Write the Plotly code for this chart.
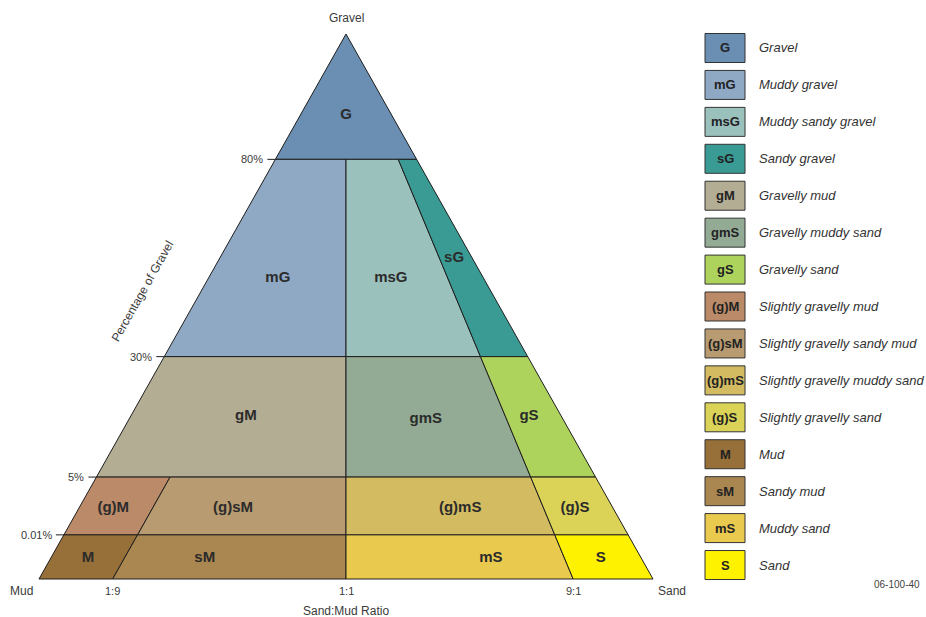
import plotly.graph_objects as go

# gravel class limits and their schematic height on the diagram (apex = 100)
gravel_labels = ["0.01%", "5%", "30%", "80%"]
gravel_levels = [8.1, 18.7, 40.8, 77.0]

# sand:mud ratio limits, position along the base (Mud = 0, Sand = 100)
ratio_labels = ["1:9", "1:1", "9:1"]
ratio_base = [12.0, 50.0, 87.0]

codes = ["G", "mG", "msG", "sG", "gM", "gmS", "gS", "(g)M", "(g)sM",
         "(g)mS", "(g)S", "M", "sM", "mS", "S"]
names = ["Gravel", "Muddy gravel", "Muddy sandy gravel", "Sandy gravel",
         "Gravelly mud", "Gravelly muddy sand", "Gravelly sand",
         "Slightly gravelly mud", "Slightly gravelly sandy mud",
         "Slightly gravelly muddy sand", "Slightly gravelly sand",
         "Mud", "Sandy mud", "Muddy sand", "Sand"]
# gravel band of each class (0 = lowest) and the limits on its left / right
bands = [4, 3, 3, 3, 2, 2, 2, 1, 1, 1, 1, 0, 0, 0, 0]
left_side = ["mud", "mud", "1:1", "9:1", "mud", "1:1", "9:1",
             "mud", "1:9", "1:1", "9:1", "mud", "1:9", "1:1", "9:1"]
right_side = ["sand", "1:1", "9:1", "sand", "1:1", "9:1", "sand",
              "1:9", "1:1", "9:1", "sand", "1:9", "1:1", "9:1", "sand"]

colors = ["#6a8fb2", "#8fa9c4", "#9bc1bd", "#3a9b95", "#b3ad94", "#93ab94",
          "#aed35d", "#bb8a69", "#b89b70", "#d3bb62", "#dad357", "#976f38",
          "#aa8651", "#eac94f", "#fff200"]

# where the class codes sit inside the triangle (diagram units)
label_x = [50, 38.9, 57.3, 67.6, 33.7, 63.0, 79.8, 12.1, 31.6, 68.6, 87.3,
           8.0, 27.0, 73.6, 91.5]
label_y = [85.1, 55.2, 55.2, 58.9, 29.9, 29.4, 29.9, 13.0, 13.0, 13.0, 13.0,
           3.9, 3.9, 3.9, 3.9]

levels = [0] + gravel_levels + [100]
LINE = "#1e1e1e"
SANS = "Liberation Sans, Arial, sans-serif"


def side_x(side, y):
    if side == "mud":
        return 0.5 * y
    if side == "sand":
        return 100 - 0.5 * y
    if side == "1:9":  # drawn parallel to the mud edge
        return ratio_base[0] + 0.5 * y
    base = ratio_base[ratio_labels.index(side)]
    return base + (50 - base) * y / 100  # runs to the apex


fig = go.Figure()

for i in range(len(codes)):
    y0, y1 = levels[bands[i]], levels[bands[i] + 1]
    xs = [side_x(left_side[i], y0), side_x(right_side[i], y0),
          side_x(right_side[i], y1), side_x(left_side[i], y1),
          side_x(left_side[i], y0)]
    fig.add_trace(go.Scatter(x=xs, y=[y0, y0, y1, y1, y0], mode="lines",
                             fill="toself", fillcolor=colors[i],
                             line=dict(color=LINE, width=1),
                             hoverinfo="skip", showlegend=False))

fig.add_trace(go.Scatter(x=label_x, y=label_y, mode="text", text=codes,
                         textfont=dict(family=SANS, size=15, color="#2b2b2b",
                                       weight="bold"),
                         hoverinfo="skip", showlegend=False))

# gravel ticks on the mud edge
for lab, lv in zip(gravel_labels, gravel_levels):
    fig.add_trace(go.Scatter(x=[side_x("mud", lv) - 1.3, side_x("mud", lv)],
                             y=[lv, lv], mode="lines",
                             line=dict(color=LINE, width=1),
                             hoverinfo="skip", showlegend=False))
    fig.add_annotation(x=side_x("mud", lv) - 1.3, y=lv, text=lab,
                       xanchor="right", xshift=-2, showarrow=False,
                       font=dict(family=SANS, size=11, color="#3a3a3a"))

for lab, b in zip(ratio_labels, ratio_base):
    fig.add_annotation(x=b, y=-2.2, text=lab, showarrow=False,
                       font=dict(family=SANS, size=11, color="#3a3a3a"))

axis_font = dict(family=SANS, size=12, color="#3a3a3a")
fig.add_annotation(x=50, y=102.9, text="Gravel", showarrow=False, font=axis_font)
fig.add_annotation(x=-2.8, y=-2.2, text="Mud", showarrow=False, font=axis_font)
fig.add_annotation(x=103.1, y=-2.2, text="Sand", showarrow=False, font=axis_font)
fig.add_annotation(x=50, y=-5.9, text="Sand:Mud Ratio", showarrow=False,
                   font=axis_font)
fig.add_annotation(x=16.9, y=52.8, text="Percentage of Gravel", textangle=-60.6,
                   showarrow=False, font=axis_font)

# legend drawn as boxes on the right
for i in range(len(codes)):
    cy = 1 - (48 + i * 36.93) / 617
    fig.add_shape(type="rect", xref="paper", yref="paper",
                  x0=705 / 926, x1=745 / 926, y0=cy - 14.5 / 617,
                  y1=cy + 14.5 / 617, fillcolor=colors[i],
                  line=dict(color="#333333", width=1))
    fig.add_annotation(xref="paper", yref="paper", x=725 / 926, y=cy,
                       xanchor="center", yanchor="middle",
                       text="<b>" + codes[i] + "</b>", showarrow=False,
                       font=dict(family=SANS, size=13, color="#222222"))
    fig.add_annotation(xref="paper", yref="paper", x=757 / 926, y=cy,
                       xanchor="left", yanchor="middle",
                       text="<i>" + names[i] + "</i>", showarrow=False,
                       font=dict(family=SANS, size=13, color="#333333"))

fig.add_annotation(xref="paper", yref="paper", x=922 / 926, y=1 - 584 / 617,
                   xanchor="right", yanchor="middle", text="06-100-40",
                   showarrow=False,
                   font=dict(family=SANS, size=10, color="#444444"))

fig.update_xaxes(range=[-39 / 6.14, 887 / 6.14], visible=False)
fig.update_yaxes(range=[-38 / 5.45, 579 / 5.45], visible=False)
fig.update_layout(width=926, height=617, margin=dict(l=0, r=0, t=0, b=0),
                  plot_bgcolor="white", paper_bgcolor="white")

fig.write_html("out.html", config={"displayModeBar": False},
               post_script="document.body.style.margin = '0';")
